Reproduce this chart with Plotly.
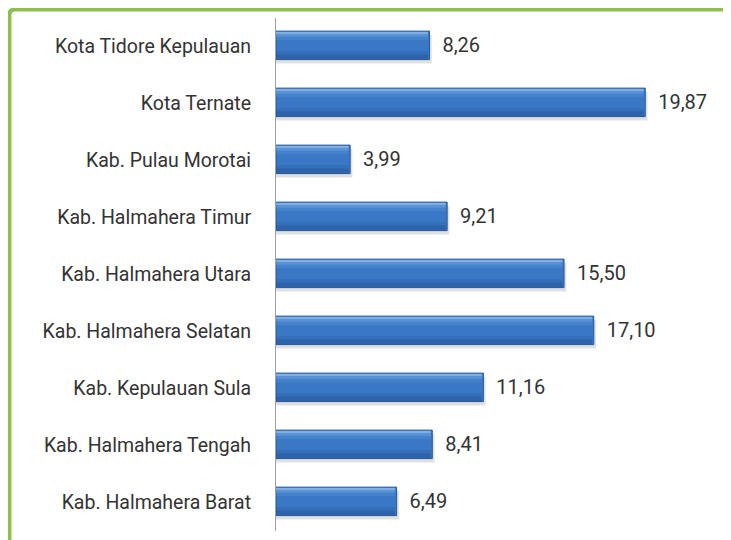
import plotly.graph_objects as go

regions = [
    "Kota Tidore Kepulauan",
    "Kota Ternate",
    "Kab. Pulau Morotai",
    "Kab. Halmahera Timur",
    "Kab. Halmahera Utara",
    "Kab. Halmahera Selatan",
    "Kab. Kepulauan Sula",
    "Kab. Halmahera Tengah",
    "Kab. Halmahera Barat",
]
values = [8.26, 19.87, 3.99, 9.21, 15.50, 17.10, 11.16, 8.41, 6.49]

FONT = "Roboto, Open Sans, sans-serif"

fig = go.Figure()

# soft drop shadow behind each bar
fig.add_trace(go.Bar(
    y=regions, x=[v + 0.12 for v in values], orientation="h",
    width=0.5, offset=-0.2,
    marker=dict(color="rgba(0,0,0,0.12)", line=dict(width=0)),
    hoverinfo="skip", showlegend=False,
))

# main bars
fig.add_trace(go.Bar(
    y=regions, x=values, orientation="h",
    width=0.5, offset=-0.27,
    marker=dict(color="#3A78C6", line=dict(color="#27599A", width=1)),
    texttemplate="\u00a0\u00a0%{x:.2f}", textposition="outside",
    textfont=dict(family=FONT, size=20, color="#333333"),
    cliponaxis=False, showlegend=False,
))

# fake vertical gradient: thin overlay strips (offset, width, colour)
strips = [
    (-0.26, 0.04, "rgba(190,220,250,0.55)"),
    (-0.22, 0.05, "rgba(150,195,245,0.35)"),
    (-0.17, 0.06, "rgba(120,175,235,0.18)"),
    (0.08, 0.06, "rgba(30,70,130,0.18)"),
    (0.14, 0.085, "rgba(25,60,120,0.35)"),
]
for off, w, col in strips:
    fig.add_trace(go.Bar(
        y=regions, x=[v - 0.08 for v in values], orientation="h",
        width=w, offset=off,
        marker=dict(color=col, line=dict(width=0)),
        hoverinfo="skip", showlegend=False,
    ))

# page body adds an 8px offset, so plot area is placed accordingly
L, T, PW, PH = 268, 10, 446, 513

# green frame (top + left with small rounded corner), in paper coords
x0 = (1.5 - L) / PW
y0 = (T + PH - 1.5) / PH
rx, ry = 5 / PW, 5 / PH
fig.add_shape(
    type="path", xref="paper", yref="paper",
    path=f"M {x0},-0.1 L {x0},{y0 - ry} Q {x0},{y0} {x0 + rx},{y0} L 1.1,{y0}",
    line=dict(color="#8CBF4B", width=4),
)

fig.update_layout(
    width=731, height=540,
    margin=dict(l=L, r=731 - L - PW, t=T, b=540 - T - PH),
    paper_bgcolor="white", plot_bgcolor="white",
    barmode="overlay",
    separators=",.",
    showlegend=False,
    xaxis=dict(range=[0, 24], showgrid=False, zeroline=False,
               showticklabels=False, showline=False),
    yaxis=dict(autorange="reversed", showgrid=False, zeroline=False,
               showline=True, linecolor="#A0A0A0", linewidth=1,
               ticks="", ticklabelstandoff=20,
               tickfont=dict(family=FONT, size=19.5, color="#333333")),
)

fig.write_html("out.html")
